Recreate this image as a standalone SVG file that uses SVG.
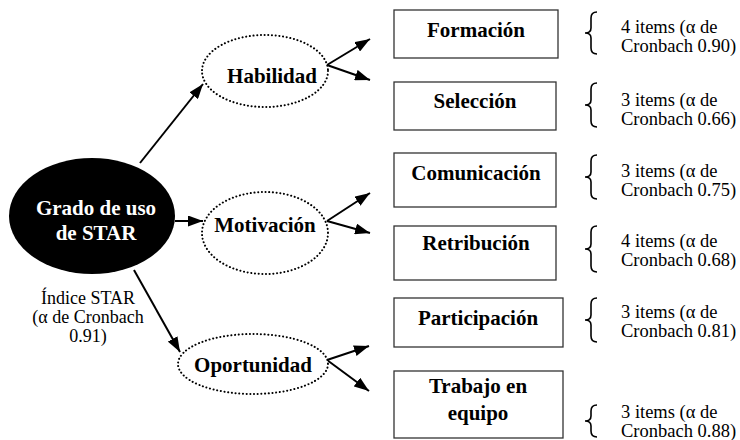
<svg xmlns="http://www.w3.org/2000/svg" width="740" height="440" viewBox="0 0 740 440">
<style>
.bg{fill:#fff}
.lat{fill:#fff;stroke:#000;stroke-width:2;stroke-dasharray:0.1 3.6;stroke-linecap:round}
.box{fill:#fff;stroke:#333;stroke-width:1.3}
.bt{font-family:"Liberation Serif","Times New Roman",serif;font-weight:bold;font-size:21px;fill:#000;text-anchor:middle}
.wt{font-family:"Liberation Serif","Times New Roman",serif;font-weight:bold;font-size:21px;fill:#fff;text-anchor:middle}
.it{font-family:"Liberation Serif","Times New Roman",serif;font-size:18.5px;fill:#000}
.ct{font-family:"Liberation Serif","Times New Roman",serif;font-size:18px;fill:#000;text-anchor:middle}
.br{fill:none;stroke:#000;stroke-width:1.6}
.ar{stroke:#000;stroke-width:2;fill:none;marker-end:url(#ah)}
</style>
<defs>
<marker id="ah" viewBox="0 0 15 11" refX="15" refY="5.5" markerWidth="15" markerHeight="11" markerUnits="userSpaceOnUse" orient="auto">
<path d="M0,0 L15,5.5 L0,11 z" fill="#000"/>
</marker>
</defs>
<rect class="bg" x="0" y="0" width="740" height="440"/>

<g id="connectors">
<line class="ar" x1="140" y1="163" x2="203" y2="84"/>
<line class="ar" x1="175" y1="221" x2="203" y2="221"/>
<line class="ar" x1="134" y1="270" x2="180" y2="352"/>
<line class="ar" x1="327" y1="65" x2="370" y2="39"/>
<line class="ar" x1="327" y1="65" x2="370" y2="80"/>
<line class="ar" x1="327" y1="221" x2="370" y2="193"/>
<line class="ar" x1="327" y1="221" x2="370" y2="233"/>
<line class="ar" x1="327" y1="360" x2="369" y2="346"/>
<line class="ar" x1="327" y1="360" x2="369" y2="391"/>
</g>

<g id="grado">
<ellipse cx="92" cy="216" rx="83" ry="58" fill="#000"/>
<text class="wt" x="96" y="215">Grado de uso</text>
<text class="wt" x="96" y="240">de STAR</text>
</g>

<g id="indice">
<text class="ct" x="88" y="304">Índice STAR</text>
<text class="ct" x="88" y="323">(α de Cronbach</text>
<text class="ct" x="88" y="342">0.91)</text>
</g>

<g id="habilidad">
<ellipse class="lat" cx="265" cy="71" rx="63" ry="36"/>
<text class="bt" x="272" y="83">Habilidad</text>
</g>

<g id="motivacion">
<ellipse class="lat" cx="265" cy="233" rx="63" ry="41"/>
<text class="bt" x="265" y="232">Motivación</text>
</g>

<g id="oportunidad">
<ellipse class="lat" cx="253" cy="364" rx="75" ry="30"/>
<text class="bt" x="253" y="372">Oportunidad</text>
</g>

<g id="formacion">
<rect class="box" x="394" y="10" width="164" height="48"/>
<text class="bt" x="476" y="37">Formación</text>
<path class="br" d="M597,12 Q591,12 591,18 L591,28 Q591,33 585,33 Q591,33 591,38 L591,48 Q591,54 597,54"/>
<text class="it" x="621" y="33">4 items (α de</text>
<text class="it" x="621" y="52">Cronbach 0.90)</text>
</g>

<g id="seleccion">
<rect class="box" x="394" y="82" width="162" height="48"/>
<text class="bt" x="475" y="108">Selección</text>
<path class="br" d="M597,83 Q591,83 591,89 L591,100 Q591,105 585,105 Q591,105 591,110 L591,121 Q591,127 597,127"/>
<text class="it" x="621" y="106">3 items (α de</text>
<text class="it" x="621" y="125">Cronbach 0.66)</text>
</g>

<g id="comunicacion">
<rect class="box" x="394" y="153" width="162" height="54"/>
<text class="bt" x="476" y="180">Comunicación</text>
<path class="br" d="M597,155 Q591,155 591,161 L591,172 Q591,177 585,177 Q591,177 591,182 L591,193 Q591,199 597,199"/>
<text class="it" x="621" y="177">3 items (α de</text>
<text class="it" x="621" y="196">Cronbach 0.75)</text>
</g>

<g id="retribucion">
<rect class="box" x="394" y="226" width="162" height="54"/>
<text class="bt" x="476" y="250">Retribución</text>
<path class="br" d="M597,226 Q591,226 591,232 L591,244 Q591,249 585,249 Q591,249 591,254 L591,266 Q591,272 597,272"/>
<text class="it" x="621" y="247">4 items (α de</text>
<text class="it" x="621" y="266">Cronbach 0.68)</text>
</g>

<g id="participacion">
<rect class="box" x="394" y="298" width="169" height="49"/>
<text class="bt" x="478" y="325">Participación</text>
<path class="br" d="M597,298 Q591,298 591,304 L591,315 Q591,320 585,320 Q591,320 591,325 L591,336 Q591,342 597,342"/>
<text class="it" x="621" y="318">3 items (α de</text>
<text class="it" x="621" y="337">Cronbach 0.81)</text>
</g>

<g id="trabajo">
<rect class="box" x="394" y="371" width="169" height="67"/>
<text class="bt" x="478" y="393">Trabajo en</text>
<text class="bt" x="478" y="420">equipo</text>
<path class="br" d="M597,405 Q591,405 591,411 L591,416 Q591,421 585,421 Q591,421 591,426 L591,431 Q591,437 597,437"/>
<text class="it" x="621" y="418">3 items (α de</text>
<text class="it" x="621" y="437">Cronbach 0.88)</text>
</g>
</svg>
